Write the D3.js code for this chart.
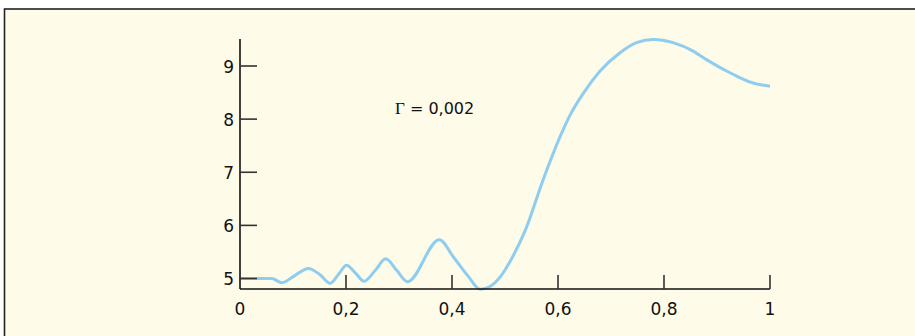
<!DOCTYPE html>
<html>
<head>
<meta charset="utf-8">
<script src="https://cdn.jsdelivr.net/npm/d3@7"></script>
<style>
  body { margin: 0; background: #ffffff; }
  svg { display: block; }
</style>
</head>
<body>
<div id="plot"></div>
<script>
// curve
var xValues = [0, 0.03, 0.06, 0.079, 0.104, 0.129, 0.150, 0.170, 0.186, 0.201, 0.218, 0.234, 0.255, 0.275, 0.296, 0.316, 0.376,
               0.403, 0.430, 0.453, 0.470, 0.491, 0.515, 0.538, 0.572, 0.607, 0.623, 0.648, 0.679, 0.717, 0.748, 0.780,
               0.817, 0.855, 0.880, 0.931, 0.968, 1.0];
var yValues = [5.0, 5.0, 5.0, 4.92, 5.06, 5.19, 5.08, 4.91, 5.08, 5.25, 5.10, 4.95, 5.15, 5.37, 5.15, 4.94, 5.73,
               5.40, 5.05, 4.80, 4.84, 5.03, 5.42, 5.90, 6.86, 7.74, 8.08, 8.49, 8.90, 9.25, 9.44, 9.50,
               9.44, 9.28, 9.12, 8.84, 8.68, 8.62];
var xTicks = [0, 0.2, 0.4, 0.6, 0.8, 1];
var yTicks = [5, 6, 7, 8, 9];
var labelText = "0,002";

var width = 915, height = 336;

var svg = d3.select("#plot")
     .append("svg")
     .attr("width", width)
     .attr("height", height);

// cream panel with the frame on top and left
svg.append("rect")
     .attr("x", 4.5)
     .attr("y", 9)
     .attr("width", width + 10)
     .attr("height", height + 10)
     .attr("fill", "#fffbe9")
     .attr("stroke", "#222")
     .attr("stroke-width", 1.6);

var x = d3.scaleLinear().domain([0, 1]).range([240, 770]);
var y = d3.scaleLinear().domain([5, 9]).range([278.5, 66]);
var yBottom = 289;
var yTop = 39;

var font = "'DejaVu Sans', sans-serif";

// curve
var data = xValues.map(function(d, i) { return {x: d, y: yValues[i]}; });
var line = d3.line()
     .x(function(d) { return x(d.x); })
     .y(function(d) { return y(d.y); })
     .curve(d3.curveMonotoneX);

svg.append("path")
     .datum(data)
     .attr("d", line)
     .attr("fill", "none")
     .attr("stroke", "#8ecdf0")
     .attr("stroke-width", 3)
     .attr("stroke-linejoin", "round");

// Y axis
svg.append("line")
     .attr("x1", x(0)).attr("x2", x(0))
     .attr("y1", yTop).attr("y2", yBottom)
     .attr("stroke", "#111").attr("stroke-width", 1.6);

svg.selectAll(".ytick")
     .data(yTicks)
     .enter()
     .append("line")
     .attr("class", "ytick")
     .attr("x1", x(0)).attr("x2", x(0) + 17)
     .attr("y1", function(d) { return y(d); })
     .attr("y2", function(d) { return y(d); })
     .attr("stroke", "#333").attr("stroke-width", 1.6);

svg.selectAll(".ylab")
     .data(yTicks)
     .enter()
     .append("text")
     .attr("class", "ylab")
     .attr("x", x(0) - 6)
     .attr("y", function(d) { return y(d) + 6.5; })
     .attr("text-anchor", "end")
     .attr("font-family", font)
     .attr("font-size", 17)
     .attr("fill", "#111")
     .text(function(d) { return d; });

// X axis
svg.append("line")
     .attr("x1", x(0)).attr("x2", x(1))
     .attr("y1", yBottom).attr("y2", yBottom)
     .attr("stroke", "#111").attr("stroke-width", 1.6);

svg.selectAll(".xtick")
     .data(xTicks.slice(1))
     .enter()
     .append("line")
     .attr("class", "xtick")
     .attr("x1", function(d) { return x(d); })
     .attr("x2", function(d) { return x(d); })
     .attr("y1", yBottom).attr("y2", yBottom - 14)
     .attr("stroke", "#333").attr("stroke-width", 1.6);

svg.selectAll(".xlab")
     .data(xTicks)
     .enter()
     .append("text")
     .attr("class", "xlab")
     .attr("x", function(d) { return x(d); })
     .attr("y", 314.5)
     .attr("text-anchor", "middle")
     .attr("font-family", font)
     .attr("font-size", 17)
     .attr("fill", "#111")
     .text(function(d) { return String(d).replace(".", ","); });

// parameter label
var lab = svg.append("text")
     .attr("x", 395)
     .attr("y", 113.5)
     .attr("font-family", font)
     .attr("font-size", 16)
     .attr("fill", "#111");
lab.append("tspan")
     .attr("font-family", "'Liberation Serif', 'DejaVu Serif', serif")
     .attr("font-size", 17)
     .text("Γ");
lab.append("tspan").text(" = " + labelText);
</script>
</body>
</html>
